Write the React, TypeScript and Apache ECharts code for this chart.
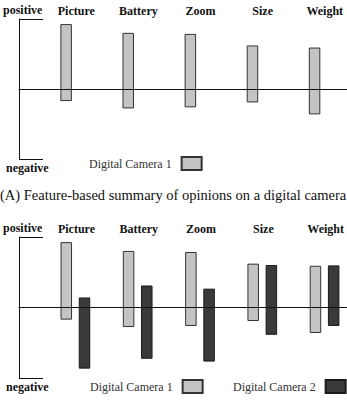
import React, { useEffect, useRef } from "react";
import * as echarts from "echarts";

const categories = ["Picture", "Battery", "Zoom", "Size", "Weight"];
// opinion ranges on a -10 (negative) .. +10 (positive) scale
const cam1High = [9.2, 7.95, 7.8, 6.15, 5.85];
const cam1Low = [-1.65, -2.7, -2.55, -1.85, -3.55];
const cam2High = [1.35, 3.05, 2.6, 5.95, 5.9];
const cam2Low = [-8.6, -7.2, -7.6, -3.8, -2.55];
const seriesNames = ["Digital Camera 1", "Digital Camera 2"];
const axisNames = ["positive", "negative"];
const caption = "(A) Feature-based summary of opinions on a digital camera";

const SERIF = "Liberation Serif";
const CAM1 = { color: "#c4c4c4", borderColor: "#333333", borderWidth: 1 };
const CAM2 = { color: "#3a3a3a", borderColor: "#1a1a1a", borderWidth: 1 };
const BAR_W = 10.5;

function toData(lo: number[], hi: number[]) {
  return categories.map((_, i) => [i, lo[i], hi[i]]);
}

function barSeries(name: string, style: any, lo: number[], hi: number[], axisIdx: number, yIdx: number, off: number) {
  return {
    type: "custom",
    name,
    xAxisIndex: axisIdx,
    yAxisIndex: yIdx,
    itemStyle: style,
    encode: { x: 0, y: [1, 2] },
    data: toData(lo, hi),
    z: 2,
    renderItem: (_p: any, api: any) => {
      const x = api.value(0);
      const top = api.coord([x, api.value(2)]);
      const bot = api.coord([x, api.value(1)]);
      return {
        type: "rect",
        shape: { x: top[0] + off - BAR_W / 2, y: top[1], width: BAR_W, height: bot[1] - top[1] },
        style: { fill: style.color, stroke: style.borderColor, lineWidth: style.borderWidth },
      };
    },
  };
}

function labelAxis(gridIndex: number, min: number, max: number) {
  return {
    type: "value",
    gridIndex,
    position: "top",
    min,
    max,
    axisLine: { show: false, onZero: false },
    axisTick: { show: false },
    splitLine: { show: false },
    axisLabel: {
      customValues: [0, 1, 2, 3, 4],
      formatter: (v: number) => categories[Math.round(v)] ?? "",
      margin: 2,
      fontFamily: SERIF,
      fontWeight: "bold",
      fontSize: 12,
      color: "#111",
    },
  };
}

function zeroAxis(gridIndex: number, min: number, max: number) {
  return {
    type: "value",
    gridIndex,
    position: "bottom",
    min,
    max,
    z: 10,
    axisLine: { show: true, onZero: true, lineStyle: { color: "#111", width: 1 } },
    axisTick: { show: false },
    axisLabel: { show: false },
    splitLine: { show: false },
  };
}

function valueAxis(gridIndex: number) {
  return {
    type: "value",
    gridIndex,
    min: -10,
    max: 10,
    interval: 10,
    axisLine: { show: true, onZero: false, lineStyle: { color: "#111", width: 1 } },
    axisTick: { show: true, inside: true, length: 24, lineStyle: { color: "#111", width: 1 } },
    splitLine: { show: false },
    axisLabel: {
      align: "left",
      margin: 16,
      formatter: (v: number) => (v === 10 ? `{p|${axisNames[0]}}` : v === -10 ? `{n|${axisNames[1]}}` : ""),
      rich: {
        p: { fontFamily: SERIF, fontWeight: "bold", fontSize: 12, color: "#111", padding: [0, 0, 19, 0] },
        n: { fontFamily: SERIF, fontWeight: "bold", fontSize: 12, color: "#111", padding: [18, 0, 0, 3] },
      },
    },
  };
}

function legend(left: number, top: number, data: string[]) {
  return {
    left,
    top,
    data,
    padding: 0,
    align: "right",
    icon: "rect",
    itemWidth: 20,
    itemHeight: 13,
    selectedMode: false,
    textStyle: { fontFamily: SERIF, fontSize: 12, color: "#333", padding: [0, 5, 0, 0] },
  };
}

export default function App() {
  const ref = useRef<HTMLDivElement>(null);
  useEffect(() => {
    if (!ref.current) return;
    const chart = echarts.init(ref.current, undefined, { renderer: "svg" });
    const min0 = -0.923, max0 = 4.358;
    const min1 = -0.923, max1 = 4.342;
    chart.setOption({
      animation: false,
      backgroundColor: "#ffffff",
      grid: [
        { left: 18, right: 0, top: 19, height: 140 },
        { left: 19, right: 0, top: 237, height: 141 },
      ],
      xAxis: [labelAxis(0, min0, max0), zeroAxis(0, min0, max0), labelAxis(1, min1, max1), zeroAxis(1, min1, max1)],
      yAxis: [valueAxis(0), valueAxis(1)],
      legend: [
        legend(89, 156, [seriesNames[0]]),
        legend(90, 379, [seriesNames[0]]),
        legend(233, 379, [seriesNames[1]]),
      ],
      graphic: [
        {
          type: "text",
          left: 0,
          top: 187,
          style: { text: caption, fontFamily: SERIF, fontSize: 14.5, fill: "#111" },
        },
      ],
      series: [
        barSeries(seriesNames[0], CAM1, cam1Low, cam1High, 0, 0, -10.2),
        barSeries(seriesNames[0], CAM1, cam1Low, cam1High, 2, 1, -10.2),
        barSeries(seriesNames[1], CAM2, cam2Low, cam2High, 2, 1, 8),
      ],
    });
    return () => chart.dispose();
  }, []);
  return <div ref={ref} style={{ position: "fixed", left: 0, top: 0, width: 347, height: 400 }} />;
}
